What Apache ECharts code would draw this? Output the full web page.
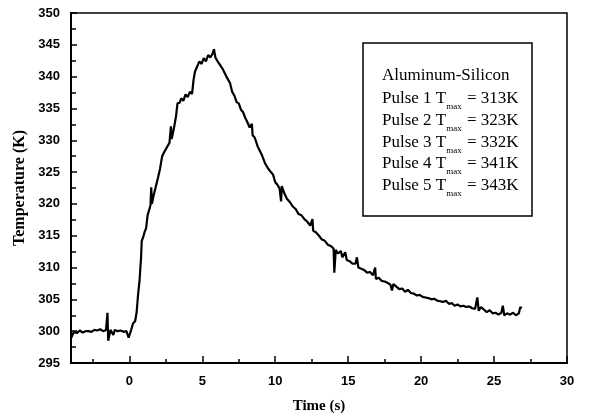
<!DOCTYPE html>
<html><head><meta charset="utf-8">
<script src="https://cdn.jsdelivr.net/npm/echarts@6/dist/echarts.min.js"></script>
<style>html,body{margin:0;padding:0;background:#fff}#c{width:603px;height:420px}</style>
</head><body><div id="c"></div>
<script>
const timeS = [-4.0,-3.8,-3.6,-3.4,-3.2,-3.0,-2.8,-2.6,-2.4,-2.2,-2.0,-1.8,-1.6,-1.5,-1.45,-1.3,-1.1,-1.0,-0.8,-0.6,-0.4,-0.2,-0.05,0.1,0.25,0.4,0.5,0.6,0.7,0.8,0.85,0.95,1.05,1.15,1.25,1.35,1.45,1.5,1.55,1.65,1.8,1.95,2.1,2.25,2.4,2.6,2.75,2.85,2.9,3.05,3.2,3.3,3.45,3.55,3.7,3.85,4.0,4.15,4.3,4.4,4.5,4.65,4.8,4.95,5.1,5.25,5.4,5.55,5.7,5.8,5.9,6.05,6.2,6.4,6.55,6.7,6.9,7.05,7.2,7.35,7.5,7.65,7.8,7.95,8.1,8.25,8.4,8.45,8.6,8.8,8.95,9.1,9.3,9.5,9.7,9.85,10.0,10.15,10.3,10.4,10.45,10.6,10.8,11.0,11.2,11.4,11.6,11.8,12.0,12.2,12.4,12.55,12.6,12.8,13.0,13.2,13.4,13.6,13.8,14.0,14.05,14.15,14.3,14.5,14.6,14.8,14.9,15.1,15.3,15.5,15.6,15.7,15.9,16.1,16.3,16.5,16.7,16.85,16.9,17.1,17.3,17.5,17.7,17.9,18.0,18.1,18.3,18.5,18.7,18.9,19.1,19.3,19.5,19.7,19.9,20.1,20.3,20.5,20.7,20.9,21.1,21.3,21.5,21.7,21.9,22.1,22.3,22.5,22.7,22.9,23.1,23.3,23.5,23.7,23.85,23.95,24.1,24.3,24.5,24.7,24.9,25.1,25.3,25.5,25.6,25.7,25.9,26.1,26.3,26.5,26.7,26.8,26.9];
const tempK = [298.9,299.9,299.7,300.1,299.8,300.0,300.0,299.9,300.2,300.1,300.3,300.0,300.2,302.9,298.5,300.2,299.4,300.2,300.0,300.1,299.9,300.0,299.0,300.0,301.2,301.6,303.0,305.8,308.0,311.5,314.2,314.8,315.6,316.2,318.2,318.4,319.8,322.6,320.0,321.2,322.6,324.0,325.5,327.5,328.2,329.0,329.6,332.2,330.2,331.8,333.8,335.8,335.9,336.6,336.2,337.2,336.8,337.6,337.3,339.5,340.8,341.6,342.4,342.0,342.9,342.4,343.4,343.0,343.6,344.3,343.0,342.4,341.9,341.2,340.5,339.8,339.0,337.6,337.0,336.0,335.8,334.8,334.4,333.5,332.8,332.0,332.6,330.8,330.4,329.0,328.3,327.6,326.4,325.6,325.0,324.6,323.4,323.0,322.4,320.4,322.8,321.8,320.8,320.3,319.6,319.2,318.4,318.2,317.6,317.2,316.6,317.6,315.8,315.5,315.0,314.4,314.2,313.6,313.4,313.0,309.2,312.8,312.2,312.6,311.6,312.4,311.2,311.0,310.6,310.6,311.6,310.0,309.8,309.6,309.2,309.3,308.8,310.0,308.2,308.4,307.9,307.8,307.6,307.3,306.4,307.4,307.0,306.6,306.7,306.2,306.5,306.0,305.9,305.6,305.7,305.4,305.3,305.2,305.0,305.1,304.8,304.7,304.6,304.8,304.3,304.4,304.0,304.2,303.9,304.0,303.8,303.9,303.6,303.5,305.3,303.2,303.8,303.4,303.0,303.3,302.8,302.9,302.6,302.9,304.0,302.5,302.8,302.6,302.9,302.5,302.8,303.8,303.6];
const xMajorTicks = [0,5,10,15,20,25,30];
const xMinorTicks = [-2.5,2.5,7.5,12.5,17.5,22.5,27.5];
const legendTitle = 'Aluminum-Silicon';
const pulseNames = ['Pulse 1','Pulse 2','Pulse 3','Pulse 4','Pulse 5'];
const pulseTmax = [313,323,332,341,343];

const serif = '"Liberation Serif", "Times New Roman", serif';
const sans = '"Liberation Sans", Arial, sans-serif';
const chart = echarts.init(document.getElementById('c'));

const ctx = document.createElement('canvas').getContext('2d');
function tw(txt, size){ ctx.font = size + 'px ' + serif; return ctx.measureText(txt).width; }

const boxX = 363, boxY = 43, boxW = 169, boxH = 173;
const textX = 382;
const rowY = [76, 99, 121, 143, 164, 186];
const mainSize = 17, subSize = 9;
const graphics = [{
  type: 'rect', z: 100,
  shape: {x: boxX, y: boxY, width: boxW, height: boxH},
  style: {fill: '#fff', stroke: '#000', lineWidth: 1.5}
}, {
  type: 'text', z: 101, x: textX, y: rowY[0],
  style: {text: legendTitle, font: mainSize + 'px ' + serif, fill: '#000', verticalAlign: 'middle'}
}];
pulseNames.forEach((p, i) => {
  const pre = p + ' T';
  const w1 = tw(pre, mainSize);
  const w2 = tw('max', subSize);
  graphics.push({type: 'text', z: 101, x: textX, y: rowY[i+1],
    style: {text: pre, font: mainSize + 'px ' + serif, fill: '#000', verticalAlign: 'middle'}});
  graphics.push({type: 'text', z: 101, x: textX + w1, y: rowY[i+1] + 8,
    style: {text: 'max', font: subSize + 'px ' + serif, fill: '#000', verticalAlign: 'middle'}});
  graphics.push({type: 'text', z: 101, x: textX + w1 + w2 + 1, y: rowY[i+1],
    style: {text: ' = ' + pulseTmax[i] + 'K', font: mainSize + 'px ' + serif, fill: '#000', verticalAlign: 'middle'}});
});

chart.setOption({
  animation: false,
  backgroundColor: '#fff',
  grid: {left: 71, right: 36, top: 13, bottom: 57, show: true, borderColor: '#000', borderWidth: 1.5, backgroundColor: 'transparent'},
  xAxis: [{
    type: 'value', min: -4, max: 30, position: 'bottom',
    name: 'Time (s)', nameLocation: 'middle', nameGap: 36,
    nameTextStyle: {fontFamily: serif, fontSize: 15, fontWeight: 'bold', color: '#000'},
    axisLine: {show: true, onZero: false, lineStyle: {color: '#000', width: 2}},
    axisTick: {show: true, inside: true, length: 7, customValues: xMajorTicks, lineStyle: {color: '#000', width: 1.5}},
    axisLabel: {customValues: xMajorTicks, color: '#000', fontFamily: sans, fontWeight: 'bold', fontSize: 13, margin: 12},
    splitLine: {show: false}
  }, {
    type: 'value', min: -4, max: 30, position: 'bottom', offset: 0,
    axisLine: {show: false},
    axisTick: {show: true, inside: true, length: 4, customValues: xMinorTicks, lineStyle: {color: '#000', width: 1.5}},
    axisLabel: {show: false},
    splitLine: {show: false}
  }],
  yAxis: {
    type: 'value', min: 295, max: 350, interval: 5,
    name: 'Temperature (K)', nameLocation: 'middle', nameGap: 41,
    nameTextStyle: {fontFamily: serif, fontSize: 16, fontWeight: 'bold', color: '#000'},
    axisLine: {show: true, onZero: false, lineStyle: {color: '#000', width: 2}},
    axisTick: {show: true, inside: true, length: 6, lineStyle: {color: '#000', width: 1.5}},
    minorTick: {show: true, splitNumber: 2, length: 5, lineStyle: {color: '#000', width: 1.5}},
    axisLabel: {color: '#000', fontFamily: sans, fontWeight: 'bold', fontSize: 13, margin: 11},
    splitLine: {show: false}
  },
  series: [{
    type: 'line', xAxisIndex: 0, symbol: 'none', showSymbol: false,
    data: timeS.map((t, i) => [t, tempK[i]]),
    lineStyle: {color: '#000', width: 2.2}
  }],
  graphic: graphics
});
</script>
</body></html>
